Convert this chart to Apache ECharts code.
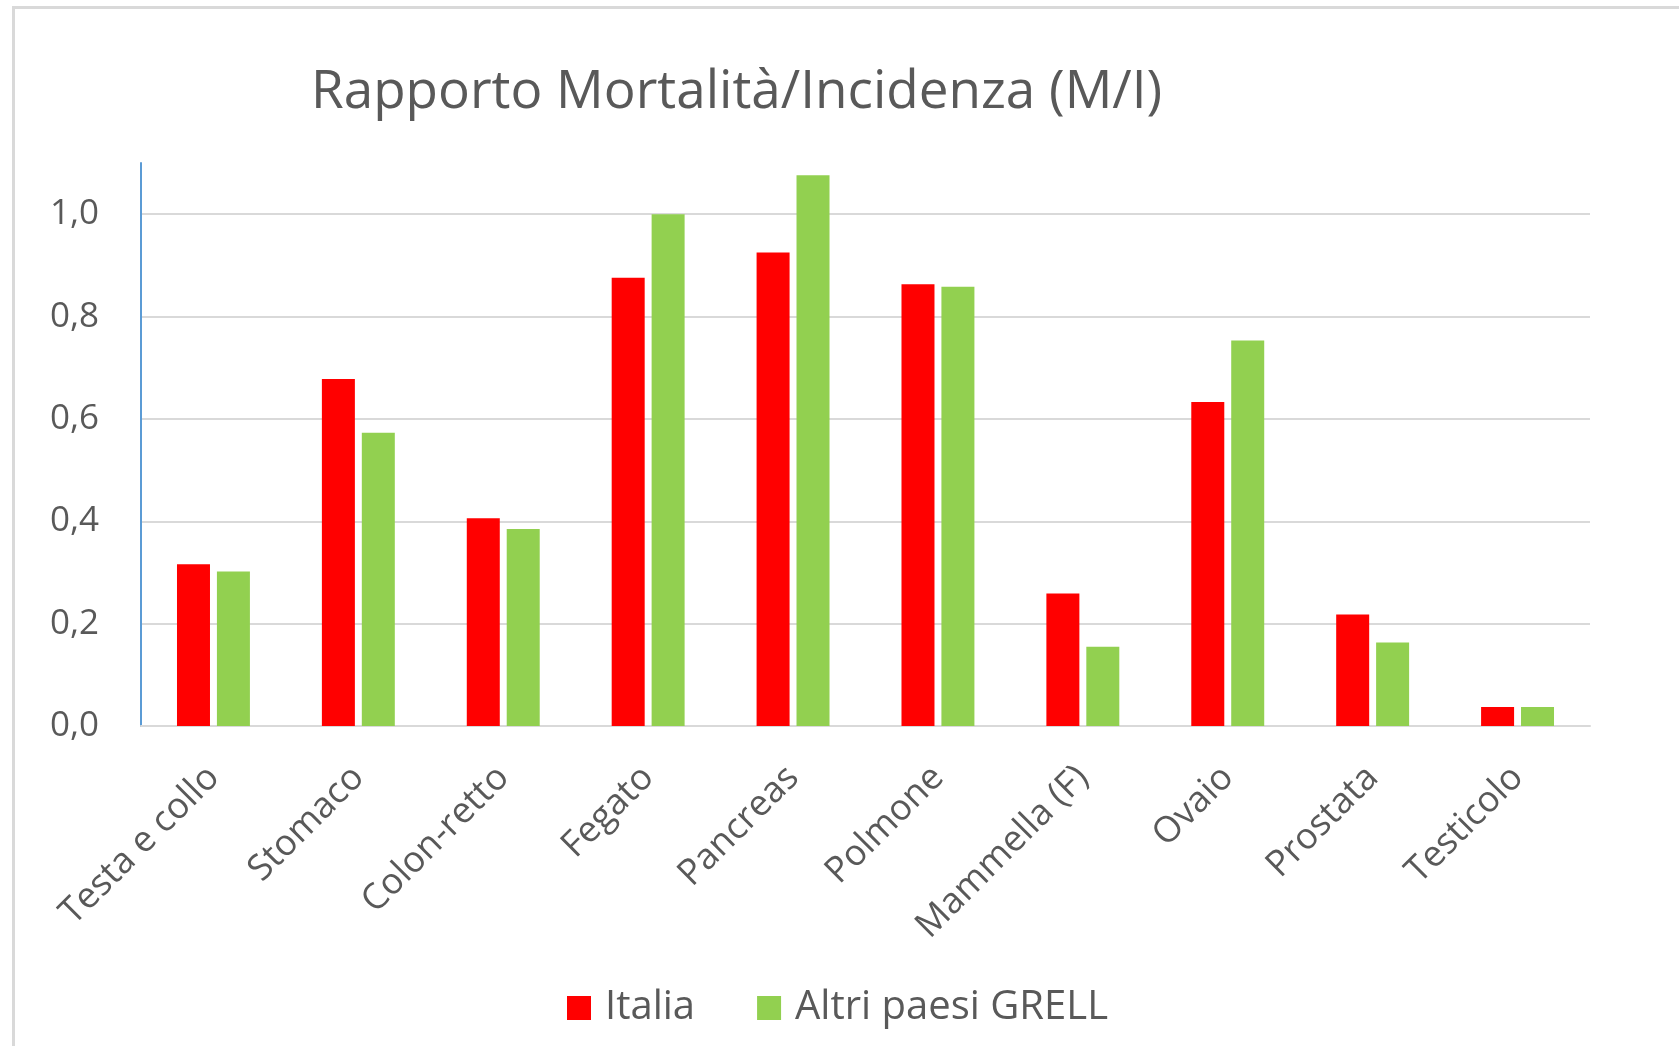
<!DOCTYPE html>
<html>
<head>
<meta charset="utf-8">
<script src="https://cdn.jsdelivr.net/npm/echarts@6/dist/echarts.min.js"></script>
<style>
html,body{margin:0;padding:0;background:#fff;}
#chart{width:1679px;height:1046px;}
</style>
</head>
<body>
<div id="chart"></div>
<script>
const categories = ["Testa e collo","Stomaco","Colon-retto","Fegato","Pancreas","Polmone","Mammella (F)","Ovaio","Prostata","Testicolo"];
const italia = [0.316,0.678,0.406,0.876,0.925,0.863,0.259,0.633,0.218,0.037];
const altri = [0.302,0.573,0.385,1.0,1.076,0.858,0.155,0.753,0.163,0.037];
const seriesNames = ["Italia","Altri paesi GRELL"];
const titleText = "Rapporto Mortalità/Incidenza (M/I)";

const chart = echarts.init(document.getElementById('chart'));
const txt = '#595959';
const font = 'Open Sans';
chart.setOption({
  animation:false,
  backgroundColor:'#fff',
  graphic:[{type:'rect',shape:{x:13.5,y:7.5,width:1800,height:1200},style:{fill:'none',stroke:'#d9d9d9',lineWidth:3},silent:true}],
  title:{text:titleText,left:306,top:61,padding:5,
    textStyle:{fontFamily:font,fontSize:53,fontWeight:'normal',color:txt}},
  legend:{data:seriesNames,left:562,top:980,itemWidth:24,itemHeight:24,itemGap:62,icon:'rect',padding:5,
    textStyle:{fontFamily:font,fontSize:40,color:txt,lineHeight:46,padding:[0,0,0,9]}},
  grid:{left:141,right:89,top:163,bottom:320,containLabel:false},
  xAxis:{type:'category',data:categories,
    axisLine:{lineStyle:{color:'#d9d9d9',width:2}},axisTick:{show:false},
    axisLabel:{rotate:45,margin:46,fontFamily:font,fontSize:36,color:txt,interval:0}},
  yAxis:{type:'value',min:0,max:1.1,interval:0.2,
    axisLine:{show:true,lineStyle:{color:'#5b9bd5',width:2}},axisTick:{show:false},
    splitLine:{show:true,showMaxLine:false,lineStyle:{color:'#d9d9d9',width:2}},
    axisLabel:{showMaxLabel:false,margin:42,fontFamily:font,fontSize:35,color:txt,
      formatter:v=>v.toFixed(1).replace('.',',')}},
  series:[
    {name:seriesNames[0],type:'bar',data:italia,barWidth:33,barGap:'21%',itemStyle:{color:'#ff0000'}},
    {name:seriesNames[1],type:'bar',data:altri,barWidth:33,itemStyle:{color:'#92d050'}}
  ]
});
</script>
</body>
</html>
